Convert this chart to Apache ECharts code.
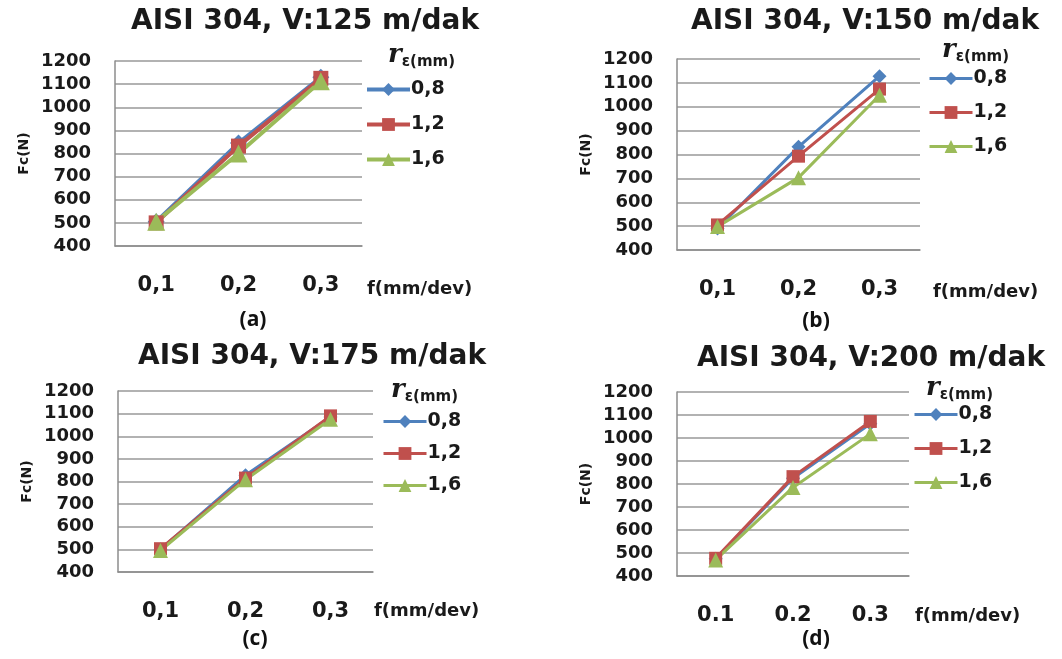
<!DOCTYPE html>
<html><head><meta charset="utf-8">
<script src="https://cdn.jsdelivr.net/npm/echarts@6/dist/echarts.min.js"></script>
<style>html,body{margin:0;padding:0;background:#fff}#c{width:1062px;height:659px}</style>
</head><body><div id="c"></div>
<script>
// ---- data ----
const catsComma = ['0,1', '0,2', '0,3'];
const catsDot = ['0.1', '0.2', '0.3'];
const seriesNames = ['0,8', '1,2', '1,6'];
const yTicks = [400, 500, 600, 700, 800, 900, 1000, 1100, 1200];
const panelTitles = ['AISI 304, V:125 m/dak', 'AISI 304, V:150 m/dak', 'AISI 304, V:175 m/dak', 'AISI 304, V:200 m/dak'];
const panelLetters = ['(a)', '(b)', '(c)', '(d)'];
const a08 = [505, 845, 1130];
const a12 = [500, 832, 1125];
const a16 = [505, 800, 1112];
const b08 = [490, 832, 1128];
const b12 = [505, 793, 1074];
const b16 = [498, 703, 1048];
const c08 = [500, 828, 1085];
const c12 = [503, 815, 1090];
const c16 = [495, 808, 1075];
const d08 = [475, 825, 1062];
const d12 = [477, 832, 1072];
const d16 = [470, 785, 1018];

// ---- layout ----
const panels = [
  {grid: {left: 115, top: 61, width: 247, height: 185}, cats: catsComma, data: [a08, a12, a16], sym: 17, lw: 4, gap: 16,
   title: {x: 300, y: 3}, letter: {x: 248, y: 305}, leg: {left: 360, top: 75}, legT: {left: 383, top: 36}, fname: {left: 362, top: 275}},
  {grid: {left: 677, top: 59, width: 243, height: 191}, cats: catsComma, data: [b08, b12, b16], sym: 14, lw: 3, gap: 15,
   title: {x: 860, y: 3}, letter: {x: 811, y: 306}, leg: {left: 923, top: 64}, legT: {left: 937, top: 31}, fname: {left: 928, top: 278}},
  {grid: {left: 118, top: 391, width: 255, height: 181}, cats: catsComma, data: [c08, c12, c16], sym: 14, lw: 3, gap: 13,
   title: {x: 307, y: 338}, letter: {x: 250, y: 624}, leg: {left: 377, top: 407}, legT: {left: 386, top: 371}, fname: {left: 369, top: 597}},
  {grid: {left: 677, top: 392, width: 232, height: 184}, cats: catsDot, data: [d08, d12, d16], sym: 14, lw: 3, gap: 15,
   title: {x: 866, y: 340}, letter: {x: 811, y: 624}, leg: {left: 908, top: 400}, legT: {left: 921, top: 369}, fname: {left: 910, top: 602}}
];
const colors = ['#4F81BD', '#C0504D', '#9BBB59'];
const symbols = ['diamond', 'rect', 'triangle'];
const symScale = [1.0, 0.9, 1.05];
const FONT = 'DejaVu Sans';

const grids = [], xAxes = [], yAxes = [], series = [], titles = [], legends = [];
panels.forEach((p, i) => {
  grids.push(p.grid);
  xAxes.push({
    type: 'category', gridIndex: i, data: p.cats, boundaryGap: true,
    axisLine: {lineStyle: {color: '#8c8c8c', width: 1.5}}, axisTick: {show: false},
    axisLabel: {margin: 29, fontFamily: FONT, fontWeight: 'bold', fontSize: 21, color: '#1a1a1a'}
  });
  yAxes.push({
    type: 'value', gridIndex: i, min: yTicks[0], max: yTicks[yTicks.length - 1], interval: 100,
    name: 'Fc(N)', nameLocation: 'middle', nameGap: 84,
    nameTextStyle: {fontFamily: FONT, fontWeight: 'bold', fontSize: 14, color: '#1a1a1a'},
    axisLine: {show: true, lineStyle: {color: '#8c8c8c', width: 1.5}}, axisTick: {show: false},
    axisLabel: {margin: 24, fontFamily: FONT, fontWeight: 'bold', fontSize: 18, color: '#1a1a1a',
      formatter: v => String(v)},
    splitLine: {lineStyle: {color: '#999', width: 1.5}}
  });
  p.data.forEach((vals, k) => {
    series.push({
      type: 'line', name: seriesNames[k], xAxisIndex: i, yAxisIndex: i, data: vals,
      symbol: symbols[k], symbolSize: Math.round(p.sym * symScale[k]),
      lineStyle: {color: colors[k], width: p.lw}, itemStyle: {color: colors[k]},
      emphasis: {disabled: true}, animation: false
    });
  });
  titles.push({text: panelTitles[i], left: p.title.x, top: p.title.y, textAlign: 'center',
    textStyle: {fontFamily: FONT, fontWeight: 'bold', fontSize: 28, color: '#1a1a1a'}});
  titles.push({text: panelLetters[i], left: p.letter.x, top: p.letter.y, textAlign: 'center',
    textStyle: {fontFamily: 'Open Sans', fontWeight: 'bold', fontSize: 21, color: '#111'}});
  titles.push({text: '{r|r}{s|ε(mm)}', left: p.legT.left, top: p.legT.top,
    textStyle: {rich: {
      r: {fontFamily: 'DejaVu Serif', fontStyle: 'italic', fontWeight: 'bold', fontSize: 26, color: '#1a1a1a'},
      s: {fontFamily: FONT, fontWeight: 'bold', fontSize: 15, color: '#1a1a1a', padding: [14, 0, 0, 0]}
    }}});
  titles.push({text: 'f(mm/dev)', left: p.fname.left, top: p.fname.top,
    textStyle: {fontFamily: FONT, fontWeight: 'bold', fontSize: 18, color: '#1a1a1a'}});
  legends.push({
    orient: 'vertical', left: p.leg.left, top: p.leg.top, data: seriesNames,
    itemWidth: 43, itemHeight: 16, itemGap: p.gap, selectedMode: false,
    lineStyle: {width: p.lw},
    textStyle: {fontFamily: FONT, fontWeight: 'bold', fontSize: 19, color: '#1a1a1a', padding: [0, 0, 0, -4]}
  });
});

const chart = echarts.init(document.getElementById('c'), null, {renderer: 'canvas'});
chart.setOption({
  backgroundColor: '#fff', animation: false,
  grid: grids, xAxis: xAxes, yAxis: yAxes, series: series, title: titles, legend: legends
});
</script></body></html>
